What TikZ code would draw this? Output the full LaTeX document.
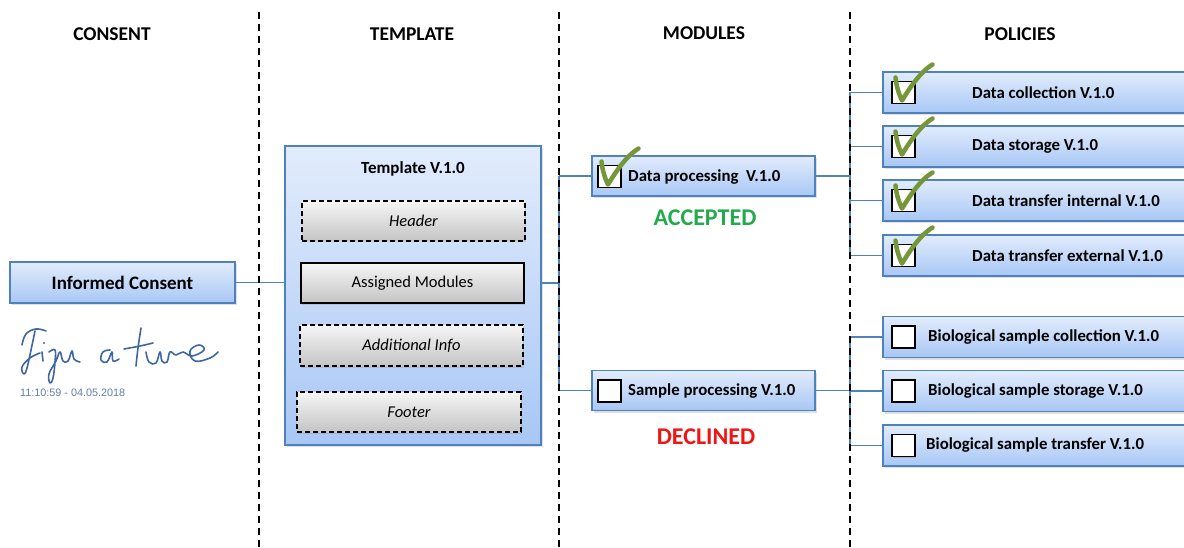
\documentclass[tikz,border=0pt]{standalone}
\usepackage{fontspec}
\setmainfont{Carlito}
\newfontfamily\arialf{Liberation Sans}
\usetikzlibrary{shadows,calc}
\definecolor{bborder}{RGB}{79,129,189}
\definecolor{btop}{RGB}{226,236,252}
\definecolor{bbot}{RGB}{168,199,245}
\definecolor{gtop}{RGB}{246,246,246}
\definecolor{gbot}{RGB}{196,196,196}
\definecolor{chkgreen}{RGB}{118,150,58}
\definecolor{accgreen}{RGB}{34,170,76}
\definecolor{decred}{RGB}{240,20,20}
\definecolor{sigblue}{RGB}{62,102,162}
\definecolor{tsblue}{RGB}{92,126,170}
\begin{document}
\begin{tikzpicture}[x=1pt,y=-1pt,
  hdr/.style={font=\bfseries\fontsize{19.5}{21}\selectfont},
  bluebox/.style={draw=bborder, line width=1.1pt, top color=btop, bottom color=bbot,
    drop shadow={shadow xshift=1.5pt, shadow yshift=-2pt, opacity=0.25}, inner sep=0pt},
  graybox/.style={draw=black, line width=1.3pt, top color=gtop, bottom color=gbot,
    minimum width=223pt, minimum height=40pt, inner sep=0pt,
    font=\fontsize{16.5}{18}\selectfont,
    drop shadow={shadow xshift=1pt, shadow yshift=-1.5pt, opacity=0.25}},
  dashbox/.style={graybox, dash pattern=on 5pt off 3pt},
  chkbox/.style={draw=black, fill=white, line width=1.5pt, minimum width=23pt,
    minimum height=22pt, inner sep=0pt,
    drop shadow={shadow xshift=1pt, shadow yshift=-1pt, opacity=0.3}},
  modbox/.style={bluebox, minimum width=223pt, minimum height=40pt},
  polbox/.style={bluebox, minimum width=303pt, minimum height=41pt},
  lbl/.style={font=\bfseries\fontsize{16.8}{18}\selectfont, anchor=west, inner sep=0pt},
  conn/.style={draw=bborder, line width=1.2pt},
  divider/.style={black, line width=1.5pt, dash pattern=on 7pt off 5pt},
  tick/.style={draw=chkgreen, line width=4.5pt, line cap=round, line join=round},
  sig/.style={draw=sigblue, line width=1.6pt, line cap=round, line join=round},
  checkmark/.pic={\draw[tick] (-8,-15) .. controls (-7,-5) and (-4,3) .. (-1.5,8)
      .. controls (6,-4) and (16,-20) .. (29,-28);}
]
\useasboundingbox (0,0) rectangle (1184,548);

% headers
\node[hdr] (h1) at (112,34) {CONSENT};
\node[hdr] (h2) at (412,34) {TEMPLATE};
\node[hdr] (h3) at (704,33) {MODULES};
\node[hdr] (h4) at (1020,34) {POLICIES};

% consent
\node[bluebox, minimum width=225pt, minimum height=41pt,
  font=\bfseries\fontsize{19}{21}\selectfont] (ic) at (122.5,282.5) {Informed Consent};

% signature
\draw[sig] plot[smooth, tension=0.7] coordinates {(22,345) (26,334) (36,329) (46,331)};
\draw[sig] plot[smooth, tension=0.7] coordinates {(35,331) (31,350) (27,368) (24,374) (22,367) (30,358) (40,353)};
\draw[sig] (42,352) -- (43,361);
\fill[sigblue] (44,343) circle (1.2);
\draw[sig] plot[smooth, tension=0.7] coordinates {(49,352) (55,350) (55,362) (53,378) (50,383) (49,374) (56,361) (60,352) (63,361) (68,361) (72,351) (74,359) (80,362)};
\draw[sig] plot[smooth, tension=0.7] coordinates {(110,350) (103,352) (101,360) (107,362) (112,352) (113,361) (119,359)};
\draw[sig] plot[smooth, tension=0.7] coordinates {(141,328) (138,348) (136,366)};
\draw[sig] plot[smooth, tension=0.7] coordinates {(124,349) (140,346) (153,343)};
\draw[sig] plot[smooth, tension=0.7] coordinates {(146,352) (149,362) (156,363) (160,352) (162,361) (167,362) (170,352) (176,355) (183,352) (192,356) (204,350) (199,345) (190,351) (195,361) (210,358) (218,352)};
\node[font=\arialf\fontsize{10.8}{12}\selectfont, text=tsblue, anchor=west, inner sep=0pt] (ts) at (20,393) {11:10:59 - 04.05.2018};

% template
\node[bluebox, minimum width=256pt, minimum height=299pt] (tpl) at (413,295.5) {};
\node[font=\bfseries\fontsize{17}{19}\selectfont] (tplt) at (413,169) {Template V.1.0};
\node[dashbox] (hd) at (413.5,221) {\itshape Header};
\node[graybox] (am) at (412.5,283) {Assigned Modules};
\node[dashbox, minimum height=41pt] (ai) at (411.5,345.5) {\itshape Additional Info};
\node[dashbox, minimum width=224pt] (ft) at (409,412) {\itshape Footer};

% modules
\node[modbox] (dp) at (703.5,176) {};
\node[chkbox] (dpc) at (609.5,176.5) {};
\pic at (dpc) {checkmark};
\node[lbl] (dpt) at (628,177) {Data processing~ V.1.0};
\node[font=\bfseries\fontsize{24}{26}\selectfont, text=accgreen] (acc) at (705,218) {ACCEPTED};

\node[modbox] (sp) at (703.5,390.5) {};
\node[chkbox] (spc) at (609.5,391) {};
\node[lbl] (spt) at (628,391) {Sample processing V.1.0};
\node[font=\bfseries\fontsize{24}{26}\selectfont, text=decred] (dec) at (706,437) {DECLINED};

% policies
\foreach \n/\y/\t in {p1/92.5/Data collection V.1.0, p2/146.5/Data storage V.1.0,
   p3/200.5/Data transfer internal V.1.0, p4/255.5/Data transfer external V.1.0}{
  \node[polbox] (\n) at (1034.5,\y) {};
  \node[chkbox] (\n c) at (903.5,\y) {};
  \pic at (\n c) {checkmark};
  \node[lbl] (\n t) at (972,\y) {\t};
}
\foreach \n/\y/\x/\t in {q1/337/928/Biological sample collection V.1.0,
   q2/391/928/Biological sample storage V.1.0, q3/445.5/926/Biological sample transfer V.1.0}{
  \node[polbox] (\n) at (1034.5,\y) {};
  \node[chkbox] (\n c) at (903.5,\y) {};
  \node[lbl] (\n t) at (\x,\y) {\t};
}

% connectors
\coordinate (j1) at (559,0);
\coordinate (j2) at (850,0);
\draw[conn] (ic.east) -- (tpl.west |- ic.east);
\draw[conn] (tpl.east |- am) -- (j1 |- am);
\draw[conn] (j1 |- dp.west) -- (j1 |- sp.west);
\draw[conn] (j1 |- dp.west) -- (dp.west);
\draw[conn] (j1 |- sp.west) -- (sp.west);
\draw[conn] (dp.east) -- (j2 |- dp.east);
\draw[conn] (j2 |- p1.west) -- (j2 |- p4.west);
\foreach \n in {p1,p2,p3,p4} \draw[conn] (j2 |- \n.west) -- (\n.west);
\draw[conn] (sp.east) -- (j2 |- sp.east);
\draw[conn] (j2 |- q1.west) -- (j2 |- q3.west);
\foreach \n in {q1,q2,q3} \draw[conn] (j2 |- \n.west) -- (\n.west);

% dividers
\draw[divider] (259,12) -- (259,548);
\draw[divider] (559,12) -- (559,548);
\draw[divider] (850,12) -- (850,548);
\end{tikzpicture}
\end{document}
